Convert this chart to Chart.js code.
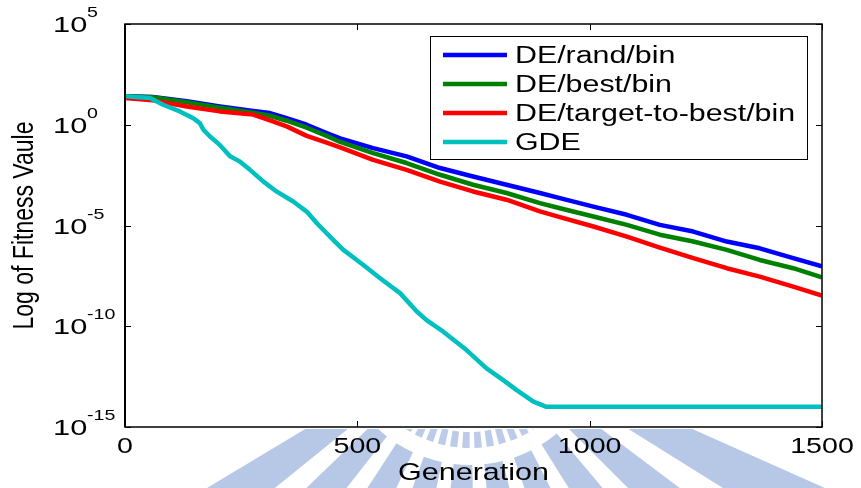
<!DOCTYPE html>
<html>
<head>
<meta charset="utf-8">
<script src="https://cdn.jsdelivr.net/npm/chart.js@4"></script>
<style>
  body { margin: 0; background: #fff; }
  canvas { display: block; }
</style>
</head>
<body>
<canvas id="fitness-chart" width="861" height="488"></canvas>
<script>
// convergence curves, fitness per generation

const deGenerations = [0, 60, 133, 204, 276, 312, 348, 391, 434, 463, 534, 606, 678, 749, 821, 893, 936, 1008, 1080, 1151, 1223, 1295, 1366, 1438, 1500];
const randBin = [25.7, 24, 14.5, 8.1, 4.8, 3.8, 2.1, 1.0, 0.39, 0.21, 0.069, 0.027, 7.1e-3, 2.7e-3, 1.05e-3, 4.1e-4, 2.3e-4, 8.7e-5, 3.4e-5, 1.07e-5, 5.0e-6, 1.6e-6, 7.4e-7, 2.4e-7, 9.5e-8];
const bestBin = [25.7, 22.9, 13.2, 7.1, 4.0, 2.8, 1.58, 0.71, 0.28, 0.14, 0.039, 0.0126, 3.3e-3, 1.05e-3, 4.1e-4, 1.3e-4, 7.2e-5, 2.8e-5, 1.07e-5, 3.5e-6, 1.6e-6, 6.2e-7, 1.95e-7, 7.6e-8, 2.7e-8];
const targetToBestBin = [21.4, 16.2, 8.1, 4.6, 3.2, 1.66, 0.83, 0.28, 0.13, 0.076, 0.018, 5.8e-3, 1.5e-3, 4.9e-4, 1.9e-4, 5.0e-5, 2.6e-5, 8.9e-6, 2.8e-6, 7.9e-7, 2.4e-7, 7.6e-8, 2.9e-8, 9.3e-9, 3.3e-9];

const gdeGenerations = [0, 54, 82, 118, 147, 161, 169, 183, 204, 226, 247, 269, 298, 326, 362, 391, 413, 448, 470, 513, 549, 592, 628, 649, 685, 735, 778, 814, 843, 879, 907, 1500];
const gdeValues = [26, 21, 9.8, 4.6, 2.1, 1.2, 0.56, 0.26, 0.10, 0.027, 0.015, 5.8e-3, 1.5e-3, 4.9e-4, 1.55e-4, 4.9e-5, 1.3e-5, 1.95e-6, 6.2e-7, 1.1e-7, 2.4e-8, 4.4e-9, 5.4e-10, 2.0e-10, 5.4e-11, 6.6e-12, 8.1e-13, 2.1e-13, 6.8e-14, 1.8e-14, 1.0e-14, 1.0e-14];

const seriesLabels = ['DE/rand/bin', 'DE/best/bin', 'DE/target-to-best/bin', 'GDE'];
const seriesColors = ['#0000ff', '#008000', '#ff0000', '#00bfbf'];

const xTicks = [0, 500, 1000, 1500];
const yTicks = [1e-15, 1e-10, 1e-5, 1, 1e5];
const yTickExponents = ['-15', '-10', '-5', '0', '5'];

const FONT = '"Liberation Sans", Arial, Helvetica, sans-serif';

function points(xs, ys) {
    return xs.map(function (x, i) { return { x: x, y: ys[i] }; });
}

// text in this figure is wide, so draw it stretched along x
function wideText(ctx, text, x, y, align, size, sx) {
    ctx.save();
    ctx.translate(x, y);
    ctx.scale(sx, 1);
    ctx.font = size + 'px ' + FONT;
    ctx.textAlign = align;
    ctx.textBaseline = 'alphabetic';
    ctx.fillText(text, 0, 0);
    ctx.restore();
}

// faint circular logo showing below the axes
const watermark = {
    id: 'watermark',
    beforeDraw(chart) {
        const ctx = chart.ctx;
        const area = chart.chartArea;
        ctx.save();
        ctx.fillStyle = '#fff';
        ctx.fillRect(0, 0, chart.width, chart.height);
        ctx.beginPath();
        ctx.rect(0, area.bottom + 2, chart.width, chart.height - area.bottom);
        ctx.clip();
        const cx = 470, cy = 330;
        ctx.fillStyle = 'rgba(95, 130, 200, 0.45)';
        for (let a = -62; a <= 62; a += 13) {
            const a0 = (90 + a - 4) * Math.PI / 180;
            const a1 = (90 + a + 4) * Math.PI / 180;
            ctx.beginPath();
            ctx.arc(cx, cy, 400, a0, a1);
            ctx.arc(cx, cy, 135, a1, a0, true);
            ctx.closePath();
            ctx.fill();
        }
        ctx.fillStyle = 'rgba(95, 130, 200, 0.42)';
        for (let a = -40; a <= 40; a += 6) {
            const a0 = (90 + a - 1.8) * Math.PI / 180;
            const a1 = (90 + a + 1.8) * Math.PI / 180;
            ctx.beginPath();
            ctx.arc(cx, cy, 118, a0, a1);
            ctx.arc(cx, cy, 102, a1, a0, true);
            ctx.closePath();
            ctx.fill();
        }
        ctx.restore();
    }
};

// box, inward ticks, tick labels, axis titles and legend
const matlabAxes = {
    id: 'matlabAxes',
    afterDraw(chart) {
        const ctx = chart.ctx;
        const area = chart.chartArea;
        const xs = chart.scales.x;
        const ys = chart.scales.y;
        ctx.save();
        ctx.strokeStyle = '#000';
        ctx.fillStyle = '#000';

        ctx.lineWidth = 1;
        xTicks.forEach(function (v) {
            const px = Math.round(xs.getPixelForValue(v)) + 0.5;
            ctx.beginPath();
            ctx.moveTo(px, area.bottom); ctx.lineTo(px, area.bottom - 6);
            ctx.moveTo(px, area.top); ctx.lineTo(px, area.top + 6);
            ctx.stroke();
            wideText(ctx, String(v), xs.getPixelForValue(v), area.bottom + 26, 'center', 22, 1.3);
        });
        yTicks.forEach(function (v, i) {
            const py = Math.round(ys.getPixelForValue(v)) + 0.5;
            ctx.beginPath();
            ctx.moveTo(area.left, py); ctx.lineTo(area.left + 6, py);
            ctx.moveTo(area.right, py); ctx.lineTo(area.right - 6, py);
            ctx.stroke();
            const y = ys.getPixelForValue(v);
            wideText(ctx, '10', 53, y + 8, 'left', 22, 1.4);
            wideText(ctx, yTickExponents[i], 87, y - 7, 'left', 14, 1.4);
        });

        ctx.lineWidth = 1.5;
        ctx.strokeRect(area.left, area.top, area.right - area.left, area.bottom - area.top);
        ctx.lineWidth = 2;
        ctx.beginPath();
        ctx.moveTo(area.left, area.top); ctx.lineTo(area.left, area.bottom);
        ctx.stroke();

        wideText(ctx, 'Generation', (area.left + area.right) / 2, 480, 'center', 24, 1.27);

        ctx.save();
        ctx.translate(33, (area.top + area.bottom) / 2);
        ctx.scale(1.3, 1);
        ctx.rotate(-Math.PI / 2);
        ctx.font = '23px ' + FONT;
        ctx.textAlign = 'center';
        ctx.textBaseline = 'alphabetic';
        ctx.fillText('Log of Fitness Vaule', 0, 0);
        ctx.restore();

        // legend box
        const bx = 430.5, by = 36.5, bw = 377, bh = 123;
        ctx.fillStyle = '#fff';
        ctx.fillRect(bx, by, bw, bh);
        ctx.lineWidth = 1;
        ctx.strokeStyle = '#000';
        ctx.strokeRect(bx, by, bw, bh);
        chart.data.datasets.forEach(function (ds, i) {
            const ry = 55 + i * 29;
            ctx.strokeStyle = ds.borderColor;
            ctx.lineWidth = 4.5;
            ctx.beginPath();
            ctx.moveTo(443, ry); ctx.lineTo(507, ry);
            ctx.stroke();
            ctx.fillStyle = '#000';
            wideText(ctx, ds.label, 515, ry + 8, 'left', 23, 1.32);
        });
        ctx.restore();
    }
};

const datasets = [
    { label: seriesLabels[0], data: points(deGenerations, randBin), borderColor: seriesColors[0], order: 3 },
    { label: seriesLabels[1], data: points(deGenerations, bestBin), borderColor: seriesColors[1], order: 2 },
    { label: seriesLabels[2], data: points(deGenerations, targetToBestBin), borderColor: seriesColors[2], order: 1 },
    { label: seriesLabels[3], data: points(gdeGenerations, gdeValues), borderColor: seriesColors[3], order: 0 }
];
datasets.forEach(function (ds) {
    ds.borderWidth = 4.5;
    ds.pointRadius = 0;
    ds.fill = false;
    ds.tension = 0;
    ds.borderJoinStyle = 'round';
});

const ctxFitness = document.getElementById('fitness-chart').getContext('2d');
const fitnessChart = new Chart(ctxFitness, {
    type: 'line',
    data: { datasets: datasets },
    options: {
        responsive: false,
        animation: false,
        devicePixelRatio: 1,
        layout: { padding: { top: 24, right: 39, left: 0, bottom: 0 } },
        plugins: {
            legend: { display: false },
            tooltip: { enabled: false }
        },
        scales: {
            x: {
                type: 'linear',
                min: 0,
                max: 1500,
                ticks: { display: false },
                grid: { display: false },
                border: { display: false },
                afterFit: function (scale) { scale.height = 61; }
            },
            y: {
                type: 'logarithmic',
                min: 1e-15,
                max: 1e5,
                ticks: { display: false },
                grid: { display: false },
                border: { display: false },
                afterFit: function (scale) { scale.width = 125; }
            }
        }
    },
    plugins: [watermark, matlabAxes]
});
</script>
</body>
</html>
